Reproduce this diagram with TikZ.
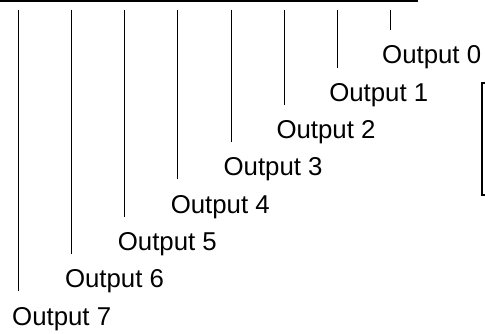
\documentclass[tikz,border=0pt]{standalone}
\usepackage{fontspec}
\setmainfont{Liberation Sans}
\usepackage{tikz}
\usetikzlibrary{positioning, arrows.meta}
\tikzset{
  outlbl/.style={inner sep=0pt, anchor=base west, font=\fontsize{25.8}{30}\selectfont},
  tap/.style={draw=black, line width=0.8pt, shorten >=15.5pt},
  bus/.style={draw=black, line width=1.2pt},
}

\begin{document}
\begin{tikzpicture}[x=1pt, y=1pt]
      \useasboundingbox (0,0) rectangle (485,334);
      % common line along the top
      \coordinate (busL) at (0,333);
      \coordinate (busR) at (418,333);
      \draw[bus] (busL) -- (busR);
      % one tap per output, stepping down to the left
      \coordinate (t0) at (390,324);
      \coordinate (t1) at (337,324);
      \coordinate (t2) at (284,324);
      \coordinate (t3) at (231,324);
      \coordinate (t4) at (177,324);
      \coordinate (t5) at (124,324);
      \coordinate (t6) at (71,324);
      \coordinate (t7) at (18,324);
      \node[outlbl] (out0) at (382,270) {Output 0};
      \node[outlbl] (out1) at (329.1,232.7) {Output 1};
      \node[outlbl] (out2) at (276.3,195.4) {Output 2};
      \node[outlbl] (out3) at (223.4,158.1) {Output 3};
      \node[outlbl] (out4) at (170.6,120.8) {Output 4};
      \node[outlbl] (out5) at (117.7,83.5) {Output 5};
      \node[outlbl] (out6) at (64.8,46.2) {Output 6};
      \node[outlbl] (out7) at (12,8.9) {Output 7};
      \draw[tap] (t0) -- (t0 |- out0.north);
      \draw[tap] (t1) -- (t1 |- out1.north);
      \draw[tap] (t2) -- (t2 |- out2.north);
      \draw[tap] (t3) -- (t3 |- out3.north);
      \draw[tap] (t4) -- (t4 |- out4.north);
      \draw[tap] (t5) -- (t5 |- out5.north);
      \draw[tap] (t6) -- (t6 |- out6.north);
      \draw[tap] (t7) -- (t7 |- out7.north);
      % edge of the box on the right
      \coordinate (boxT) at (485,251);
      \coordinate (boxB) at (485,139);
      \draw[black, line width=1.5pt] (boxT) -- (482,251) -- (482,139) -- (boxB);
    \end{tikzpicture}
\end{document}
